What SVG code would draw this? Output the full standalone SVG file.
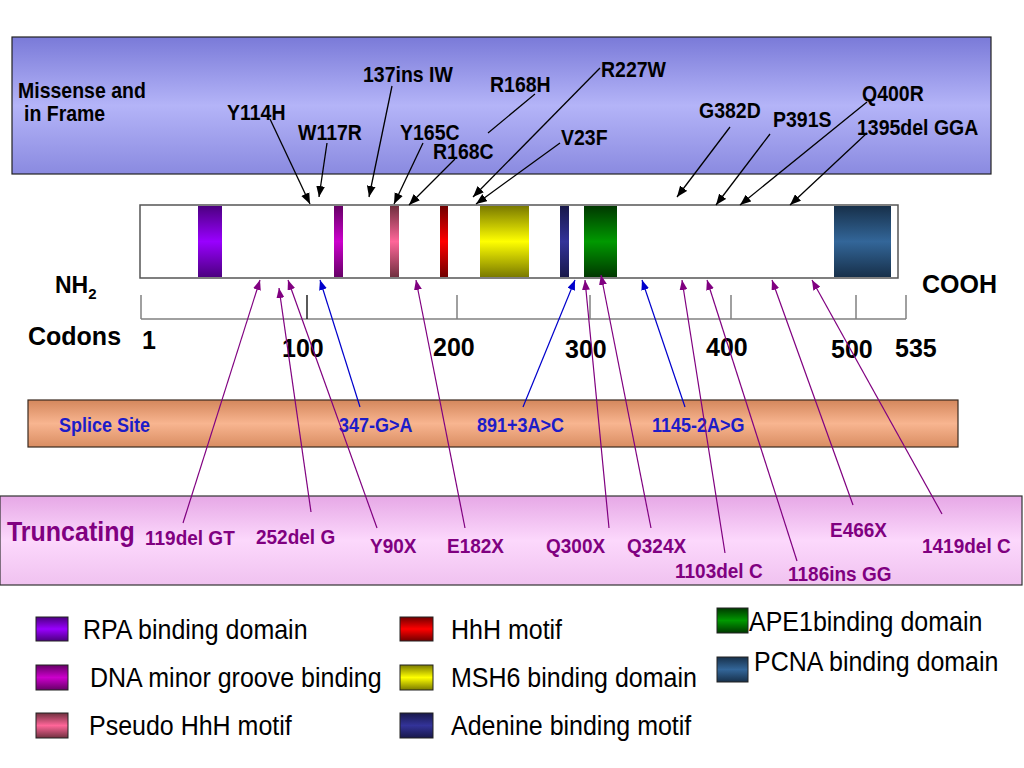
<svg xmlns="http://www.w3.org/2000/svg" width="1024" height="768" viewBox="0 0 1024 768">
<defs>
<linearGradient id="gTop" x1="0" y1="0" x2="0" y2="1"><stop offset="0" stop-color="#7a7ad8"/><stop offset="0.5" stop-color="#b4b4f8"/><stop offset="1" stop-color="#8a8ae0"/></linearGradient>
<linearGradient id="gSplice" x1="0" y1="0" x2="0" y2="1"><stop offset="0" stop-color="#d4875c"/><stop offset="0.5" stop-color="#f8b590"/><stop offset="1" stop-color="#d98d62"/></linearGradient>
<linearGradient id="gTrunc" x1="0" y1="0" x2="0" y2="1"><stop offset="0" stop-color="#e6a8e6"/><stop offset="0.5" stop-color="#fcd8fc"/><stop offset="1" stop-color="#f0c2f0"/></linearGradient>
<linearGradient id="gRPA" x1="0" y1="0" x2="0" y2="1"><stop offset="0" stop-color="#4c0080"/><stop offset="0.5" stop-color="#9900ff"/><stop offset="1" stop-color="#4c0080"/></linearGradient>
<linearGradient id="gDNA" x1="0" y1="0" x2="0" y2="1"><stop offset="0" stop-color="#660066"/><stop offset="0.5" stop-color="#cc00cc"/><stop offset="1" stop-color="#660066"/></linearGradient>
<linearGradient id="gPse" x1="0" y1="0" x2="0" y2="1"><stop offset="0" stop-color="#70303f"/><stop offset="0.5" stop-color="#ff6699"/><stop offset="1" stop-color="#70303f"/></linearGradient>
<linearGradient id="gHhH" x1="0" y1="0" x2="0" y2="1"><stop offset="0" stop-color="#700000"/><stop offset="0.5" stop-color="#ff0000"/><stop offset="1" stop-color="#700000"/></linearGradient>
<linearGradient id="gMSH" x1="0" y1="0" x2="0" y2="1"><stop offset="0" stop-color="#7a7a00"/><stop offset="0.5" stop-color="#ffff00"/><stop offset="1" stop-color="#7a7a00"/></linearGradient>
<linearGradient id="gAde" x1="0" y1="0" x2="0" y2="1"><stop offset="0" stop-color="#18184a"/><stop offset="0.5" stop-color="#333399"/><stop offset="1" stop-color="#18184a"/></linearGradient>
<linearGradient id="gAPE" x1="0" y1="0" x2="0" y2="1"><stop offset="0" stop-color="#003800"/><stop offset="0.5" stop-color="#009900"/><stop offset="1" stop-color="#003800"/></linearGradient>
<linearGradient id="gPCNA" x1="0" y1="0" x2="0" y2="1"><stop offset="0" stop-color="#17304a"/><stop offset="0.5" stop-color="#336699"/><stop offset="1" stop-color="#17304a"/></linearGradient>
<marker id="aBlack" viewBox="0 0 10 8" refX="10" refY="4" markerWidth="11" markerHeight="9" markerUnits="userSpaceOnUse" orient="auto"><path d="M0,0 L10,4 L0,8 Z" fill="#000"/></marker>
<marker id="aPurple" viewBox="0 0 10 8" refX="10" refY="4" markerWidth="10" markerHeight="8" markerUnits="userSpaceOnUse" orient="auto"><path d="M0,0 L10,4 L0,8 Z" fill="#800080"/></marker>
<marker id="aBlue" viewBox="0 0 10 8" refX="10" refY="4" markerWidth="10" markerHeight="8" markerUnits="userSpaceOnUse" orient="auto"><path d="M0,0 L10,4 L0,8 Z" fill="#0000cc"/></marker>
</defs>
<style>
.b{font-family:"Liberation Sans",Arial,sans-serif;font-weight:bold}
.top,.spl,.tr,.leg{transform-box:fill-box;transform-origin:0 80%;transform:scale(1,1.1)}
.top{font-size:19.5px;fill:#000}
.big{font-size:25px;fill:#000}
.spl{font-size:18px;fill:#1c1cc8}
.tr{font-size:19px;fill:#800080}
.leg{font-family:"Liberation Sans",Arial,sans-serif;font-size:25px;fill:#000}
.dom{stroke:none}
.sw{stroke:#222;stroke-width:1}
.cb{stroke:#000;stroke-width:1.3;fill:none;marker-end:url(#aBlack)}
.cp{stroke:#800080;stroke-width:1.2;fill:none;marker-end:url(#aPurple)}
.cu{stroke:#0000cc;stroke-width:1.2;fill:none;marker-end:url(#aBlue)}
.tick{stroke:#808080;stroke-width:1.5}
</style>
<rect width="1024" height="768" fill="#fff"/>

<g id="missense-box">
<rect x="12" y="37" width="979" height="137" fill="url(#gTop)" stroke="#222" stroke-width="1.2"/>
<text class="b top" x="18" y="98">Missense and</text>
<text class="b top" x="24" y="121">in Frame</text>
</g>
<g id="m-Y114H"><text class="b top" x="227" y="120">Y114H</text></g>
<g id="m-W117R"><text class="b top" x="298" y="140">W117R</text></g>
<g id="m-137insIW"><text class="b top" x="363" y="82">137ins IW</text></g>
<g id="m-Y165C"><text class="b top" x="400" y="140">Y165C</text></g>
<g id="m-R168C"><text class="b top" x="433" y="159">R168C</text></g>
<g id="m-R168H"><text class="b top" x="490" y="92">R168H</text></g>
<g id="m-R227W"><text class="b top" x="601" y="77">R227W</text></g>
<g id="m-V23F"><text class="b top" x="561" y="145">V23F</text></g>
<g id="m-G382D"><text class="b top" x="699" y="118">G382D</text></g>
<g id="m-P391S"><text class="b top" x="773" y="127">P391S</text></g>
<g id="m-Q400R"><text class="b top" x="862" y="101">Q400R</text></g>
<g id="m-1395delGGA"><text class="b top" x="857" y="135">1395del GGA</text></g>

<g id="protein">
<rect x="140" y="205" width="758" height="73" fill="#fff" stroke="#555" stroke-width="1.5"/>
<rect class="dom" x="198" y="206" width="24" height="71" fill="url(#gRPA)"/>
<rect class="dom" x="334" y="206" width="9" height="71" fill="url(#gDNA)"/>
<rect class="dom" x="390" y="206" width="9" height="71" fill="url(#gPse)"/>
<rect class="dom" x="440" y="206" width="8" height="71" fill="url(#gHhH)"/>
<rect class="dom" x="480" y="206" width="49" height="71" fill="url(#gMSH)"/>
<rect class="dom" x="560" y="206" width="9" height="71" fill="url(#gAde)"/>
<rect class="dom" x="584" y="206" width="33" height="71" fill="url(#gAPE)"/>
<rect class="dom" x="834" y="206" width="57" height="71" fill="url(#gPCNA)"/>
<text class="b big" x="55" y="293" style="font-size:23px">NH<tspan font-size="15" dy="6">2</tspan></text>
<text class="b big" x="922" y="293">COOH</text>
</g>

<g id="ruler">
<line class="tick" x1="141" y1="319" x2="906" y2="319"/>
<line class="tick" x1="141" y1="295" x2="141" y2="319"/>
<line x1="307" y1="295" x2="307" y2="319" stroke="#000" stroke-width="1.3"/>
<line class="tick" x1="457" y1="295" x2="457" y2="319"/>
<line class="tick" x1="590" y1="295" x2="590" y2="319"/>
<line class="tick" x1="731" y1="295" x2="731" y2="319"/>
<line class="tick" x1="856" y1="295" x2="856" y2="319"/>
<line class="tick" x1="906" y1="295" x2="906" y2="319"/>
<text class="b big" x="28" y="345">Codons</text>
<text class="b big" x="142" y="349">1</text>
<text class="b big" x="282" y="357">100</text>
<text class="b big" x="433" y="356">200</text>
<text class="b big" x="565" y="358">300</text>
<text class="b big" x="706" y="356">400</text>
<text class="b big" x="831" y="358">500</text>
<text class="b big" x="895" y="357">535</text>
</g>

<g id="splice-box">
<rect x="28" y="400" width="930" height="47" fill="url(#gSplice)" stroke="#3a2a20" stroke-width="1.2"/>
<text class="b spl" x="59" y="432">Splice Site</text>
</g>
<g id="s-347"><text class="b spl" x="339" y="432">347-G&gt;A</text></g>
<g id="s-891"><text class="b spl" x="477" y="432">891+3A&gt;C</text></g>
<g id="s-1145"><text class="b spl" x="652" y="432">1145-2A&gt;G</text></g>

<g id="truncating-box">
<rect x="0" y="496" width="1022" height="89" fill="url(#gTrunc)" stroke="#333" stroke-width="1.2"/>
<text class="b tr" x="7" y="541" style="font-size:25px">Truncating</text>
</g>
<g id="t-119delGT"><text class="b tr" x="145" y="545">119del GT</text></g>
<g id="t-252delG"><text class="b tr" x="256" y="544">252del G</text></g>
<g id="t-Y90X"><text class="b tr" x="370" y="553">Y90X</text></g>
<g id="t-E182X"><text class="b tr" x="447" y="553">E182X</text></g>
<g id="t-Q300X"><text class="b tr" x="546" y="553">Q300X</text></g>
<g id="t-Q324X"><text class="b tr" x="627" y="553">Q324X</text></g>
<g id="t-1103delC"><text class="b tr" x="675" y="578">1103del C</text></g>
<g id="t-1186insGG"><text class="b tr" x="788" y="581">1186ins GG</text></g>
<g id="t-E466X"><text class="b tr" x="830" y="537">E466X</text></g>
<g id="t-1419delC"><text class="b tr" x="922" y="553">1419del C</text></g>

<g id="connectors">
<line class="cb" x1="270" y1="119" x2="310" y2="204"/>
<line class="cb" x1="327" y1="143" x2="319" y2="197"/>
<line class="cb" x1="392" y1="86" x2="369" y2="197"/>
<line class="cb" x1="423" y1="143" x2="394" y2="204"/>
<line class="cb" x1="455" y1="159" x2="409" y2="205"/>
<line x1="535" y1="94" x2="488" y2="133" stroke="#000" stroke-width="1.2"/>
<line class="cb" x1="600" y1="68" x2="473" y2="197"/>
<line class="cb" x1="560" y1="143" x2="476" y2="204"/>
<line class="cb" x1="730" y1="127" x2="677" y2="197"/>
<line class="cb" x1="770" y1="134" x2="716" y2="205"/>
<line class="cb" x1="867" y1="102" x2="740" y2="205"/>
<line class="cb" x1="867" y1="133" x2="790" y2="205"/>

<line class="cp" x1="183" y1="523" x2="260" y2="280"/>
<line class="cp" x1="311" y1="512" x2="279" y2="288"/>
<line class="cp" x1="377" y1="528" x2="288" y2="280"/>
<line class="cp" x1="465" y1="528" x2="416" y2="280"/>
<line class="cp" x1="609" y1="528" x2="585" y2="280"/>
<line class="cp" x1="651" y1="528" x2="601" y2="275"/>
<line class="cp" x1="725" y1="553" x2="682" y2="280"/>
<line class="cp" x1="797" y1="561" x2="707" y2="280"/>
<line class="cp" x1="853" y1="505" x2="772" y2="280"/>
<line class="cp" x1="942" y1="514" x2="812" y2="280"/>
<line class="cu" x1="360" y1="407" x2="320" y2="280"/>
<line class="cu" x1="523" y1="407" x2="575" y2="280"/>
<line class="cu" x1="685" y1="407" x2="642" y2="280"/>
</g>

<g id="legend-rpa"><rect class="sw" x="36" y="617" width="32" height="24" fill="url(#gRPA)"/><text class="leg" x="83" y="639">RPA binding domain</text></g>
<g id="legend-hhh"><rect class="sw" x="400" y="617" width="33" height="24" fill="url(#gHhH)"/><text class="leg" x="451" y="639">HhH motif</text></g>
<g id="legend-ape1"><rect class="sw" x="717" y="608" width="31" height="25" fill="url(#gAPE)"/><text class="leg" x="749" y="631">APE1binding domain</text></g>
<g id="legend-dna"><rect class="sw" x="36" y="665" width="32" height="25" fill="url(#gDNA)"/><text class="leg" x="90" y="687">DNA minor groove binding</text></g>
<g id="legend-msh6"><rect class="sw" x="400" y="665" width="33" height="25" fill="url(#gMSH)"/><text class="leg" x="451" y="687">MSH6 binding domain</text></g>
<g id="legend-pcna"><rect class="sw" x="717" y="657" width="31" height="25" fill="url(#gPCNA)"/><text class="leg" x="754" y="671">PCNA binding domain</text></g>
<g id="legend-pseudo"><rect class="sw" x="36" y="713" width="32" height="25" fill="url(#gPse)"/><text class="leg" x="89" y="735">Pseudo HhH motif</text></g>
<g id="legend-adenine"><rect class="sw" x="400" y="713" width="33" height="25" fill="url(#gAde)"/><text class="leg" x="451" y="735">Adenine binding motif</text></g>
</svg>
